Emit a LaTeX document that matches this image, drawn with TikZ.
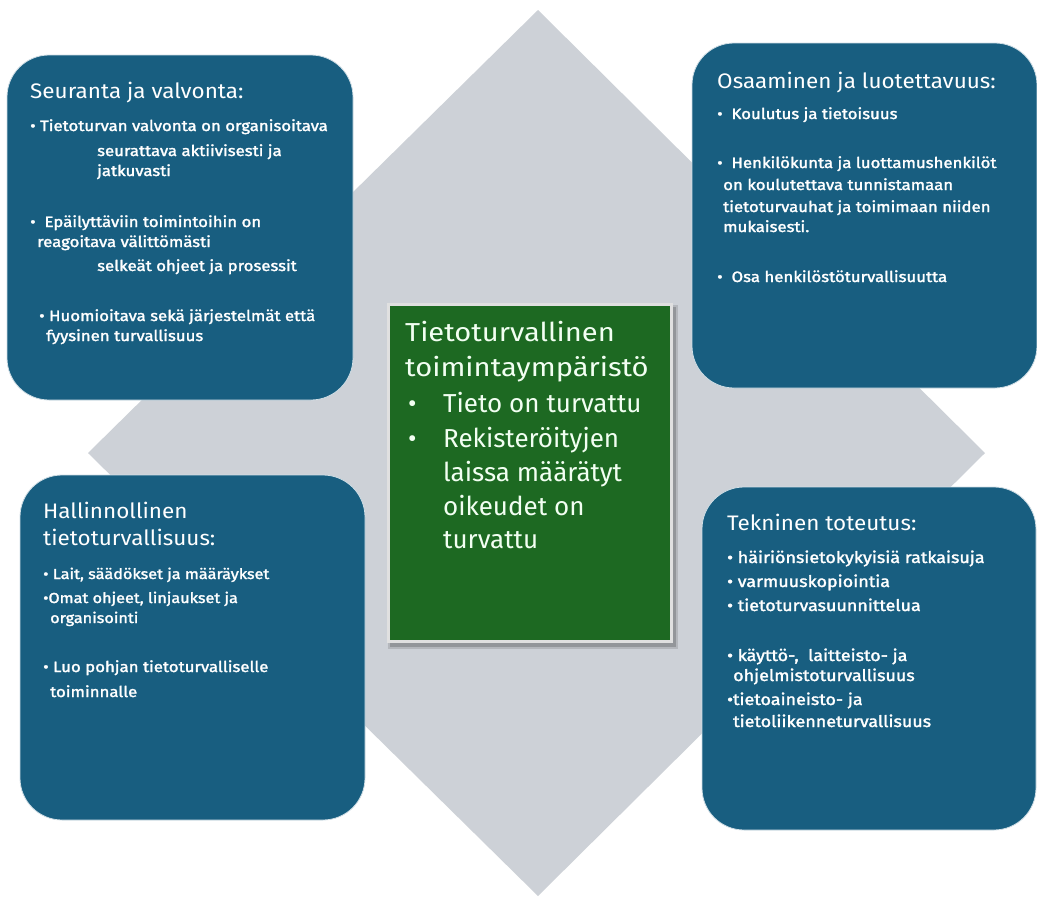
\documentclass[tikz,border=0pt]{standalone}
\usepackage{fontspec}
\setmainfont{Fira Sans}
\newfontfamily\medfont{Fira Sans}[FakeBold=1.8, FakeStretch=1.12]
\newfontfamily\ttlfont{Fira Sans}[FakeStretch=1.07]
\newfontfamily\gfont{Fira Sans}[FakeStretch=1.12]
\newfontfamily\gfontb{Fira Sans}[FakeStretch=1.0]
\definecolor{diamondgray}{RGB}{205,209,215}
\definecolor{boxblue}{RGB}{24,94,128}
\definecolor{boxgreen}{RGB}{29,105,34}
\tikzset{
  bluebox/.style={fill=boxblue, draw=white!80!boxblue, line width=0.8pt, rounded corners=42pt},
  ttl/.style={anchor=base west, inner sep=0pt, text=white, font=\ttlfont\fontsize{21}{25}\selectfont},
  txt/.style={anchor=base west, inner sep=0pt, text=white, font=\medfont\fontsize{15}{18}\selectfont},
  txtc/.style={txt, font=\medfont\fontsize{14.5}{18}\selectfont},
  txtb/.style={txt, font=\medfont\fontsize{16}{19}\selectfont},
  gtxt/.style={anchor=base west, inner sep=0pt, text=white!95!green, font=\gfont\fontsize{26}{32}\selectfont},
  gtxtb/.style={gtxt, font=\gfontb\fontsize{26}{32}\selectfont},
}
\begin{document}
\begin{tikzpicture}[x=1pt,y=-1pt]
\useasboundingbox (0,0) rectangle (1037,898);
\fill[white] (0,0) rectangle (1037,898);
% gray diamond
\fill[diamondgray] (538,10) -- (985,453) -- (538,896) -- (88,453) -- cycle;
% blue boxes
\draw[bluebox] (7,55) rectangle (353,400);
\draw[bluebox] (692,43) rectangle (1037,388);
\draw[bluebox] (20,475) rectangle (365,820);
\draw[bluebox] (702,487) rectangle (1036,830);
% green box with shadow
\fill[black, opacity=0.18] (390,307) rectangle (676,647);
\fill[black, opacity=0.12] (388,305) rectangle (678,649);
\draw[fill=boxgreen, draw=white!88!black, line width=3pt] (388.5,304.5) rectangle (671.5,641.5);
% box 1
\node[ttl] (s0) at (30,98) {Seuranta ja valvonta:};
\node[txt] (s1) at (30,131) {• Tietoturvan valvonta on organisoitava};
\node[txt] (s2) at (97,156) {seurattava aktiivisesti ja};
\node[txt] (s3) at (97,176) {jatkuvasti};
\node[txt] (s4) at (30,227) {•\ \ Epäilyttäviin toimintoihin on};
\node[txt] (s5) at (37,247) {reagoitava välittömästi};
\node[txt] (s6) at (97,271) {selkeät ohjeet ja prosessit};
\node[txt] (s7) at (39,321) {• Huomioitava sekä järjestelmät että};
\node[txt] (s8) at (46,341) {fyysinen turvallisuus};
% box 2
\node[ttl] (o0) at (717,88) {Osaaminen ja luotettavuus:};
\node[txt] (o1) at (717,119) {•\ \ Koulutus ja tietoisuus};
\node[txt] (o2) at (717,168) {•\ \ Henkilökunta ja luottamushenkilöt};
\node[txt] (o3) at (723,190) {on koulutettava tunnistamaan};
\node[txt] (o4) at (723,212) {tietoturvauhat ja toimimaan niiden};
\node[txt] (o5) at (723,232) {mukaisesti.};
\node[txt] (o6) at (717,282) {•\ \ Osa henkilöstöturvallisuutta};
% box 3
\node[ttl] (h0) at (43,518) {Hallinnollinen};
\node[ttl] (h1) at (43,545) {tietoturvallisuus:};
\node[txtc] (h2) at (43,579) {• Lait, säädökset ja määräykset};
\node[txtc] (h3) at (43,603) {•Omat ohjeet, linjaukset ja};
\node[txtc] (h4) at (50,623) {organisointi};
\node[txt] (h5) at (43,672) {• Luo pohjan tietoturvalliselle};
\node[txt] (h6) at (50,697) {toiminnalle};
% box 4
\node[ttl] (k0) at (727,530) {Tekninen toteutus:};
\node[txtb] (k1) at (727,563) {• häiriönsietokykyisiä ratkaisuja};
\node[txtb] (k2) at (727,587) {• varmuuskopiointia};
\node[txtb] (k3) at (727,611) {• tietoturvasuunnittelua};
\node[txtb] (k4) at (727,661) {• käyttö-,\ \ laitteisto- ja};
\node[txtb] (k5) at (733,681) {ohjelmistoturvallisuus};
\node[txtb] (k6) at (727,705) {•tietoaineisto- ja};
\node[txtb] (k7) at (733,727) {tietoliikenneturvallisuus};
% green box text
\node[gtxt] (g0) at (405,341) {Tietoturvallinen};
\node[gtxt] (g1) at (405,376) {toimintaympäristö};
\node[gtxtb] (g2) at (408,412) {•};
\node[gtxtb] (g3) at (443,412) {Tieto on turvattu};
\node[gtxtb] (g4) at (408,447) {•};
\node[gtxtb] (g5) at (443,447) {Rekisteröityjen};
\node[gtxtb] (g6) at (443,481) {laissa määrätyt};
\node[gtxtb] (g7) at (443,515) {oikeudet on};
\node[gtxtb] (g8) at (443,548) {turvattu};
\end{tikzpicture}
\end{document}
